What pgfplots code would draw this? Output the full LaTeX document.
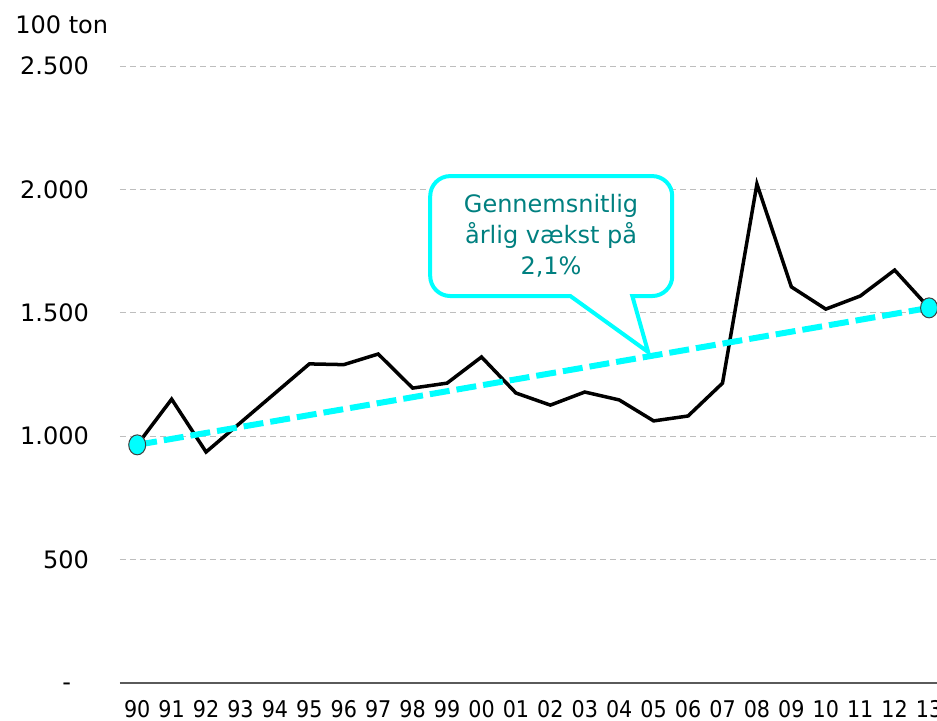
\documentclass[border=0pt]{standalone}
\usepackage{fontspec}
\setmainfont{DejaVu Sans}
\newfontfamily\condfont{DejaVu Sans Condensed}
\usepackage{pgfplots}
\pgfplotsset{compat=1.18}
\definecolor{tealtxt}{RGB}{0,128,128}
\definecolor{gridgray}{RGB}{190,190,190}
\definecolor{axgray}{RGB}{90,90,90}
\definecolor{aqua}{RGB}{0,255,255}
\begin{document}
\begin{tikzpicture}
\begin{axis}[
  at={(0,0)}, anchor=south west,
  scale only axis, width=408.5pt, height=308.5pt,
  xmin=-0.5, xmax=23.23, ymin=0, ymax=2500,
  axis x line*=bottom, axis y line*=left,
  y axis line style={draw=none},
  x axis line style={draw=axgray, line width=0.8pt},
  major tick length=0pt,
  ytick={0,500,1000,1500,2000,2500},
  yticklabels={{\smash{\raisebox{-3.6pt}{-}}\hspace*{9pt}},500,1.000,1.500,2.000,2.500},
  yticklabel style={font=\fontsize{12}{14}\selectfont, xshift=-12pt},
  xtick={0,...,23},
  xticklabels={90,91,92,93,94,95,96,97,98,99,00,01,02,03,04,05,06,07,08,09,10,11,12,13},
  xticklabel style={font=\condfont\fontsize{11.5}{13}\selectfont, anchor=base, yshift=-17pt},
  ymajorgrids,
  grid style={gridgray, line width=0.5pt, dash pattern=on 3pt off 2pt},
  clip=false,
]
\addplot[black, line width=1.75pt, line join=miter] coordinates {
 (0,965) (1,1150) (2,936) (3,1055) (4,1174) (5,1293) (6,1290) (7,1333)
 (8,1195) (9,1215) (10,1321) (11,1175) (12,1126) (13,1179) (14,1147)
 (15,1062) (16,1082) (17,1215) (18,2022) (19,1605) (20,1515) (21,1568)
 (22,1673) (23,1520)};
\addplot[aqua, line width=3pt, dash pattern=on 10pt off 3.5pt] coordinates {(0,965) (23,1520)};
\addplot[only marks, mark=*, mark size=5pt, mark options={xscale=0.85, fill=aqua, draw=black!75, line width=0.5pt}] coordinates {(0,965) (23,1520)};
\draw[aqua, line width=2pt, fill=white]
  (axis cs:12,2054) [rounded corners=10pt] -- (axis cs:15.54,2054) -- (axis cs:15.54,1568) [sharp corners]
  -- (axis cs:14.38,1568) -- (axis cs:14.84,1341) -- (axis cs:12.58,1568) [rounded corners=10pt]
  -- (axis cs:8.51,1568) -- (axis cs:8.51,2054) -- cycle;
\node[align=center, text=tealtxt, font=\fontsize{12}{15.5}\selectfont] at (axis cs:12.02,1811)
  {Gennemsnitlig\\årlig vækst på\\2,1\%};
\node[anchor=west, inner sep=0pt, font=\fontsize{12}{14}\selectfont] at ([xshift=-52.5pt, yshift=20.5pt]rel axis cs:0,1) {100 ton};
\end{axis}
\pgfresetboundingbox
\useasboundingbox (-60pt,-18.5pt) rectangle (408.5pt,341.5pt);
\end{tikzpicture}
\end{document}
